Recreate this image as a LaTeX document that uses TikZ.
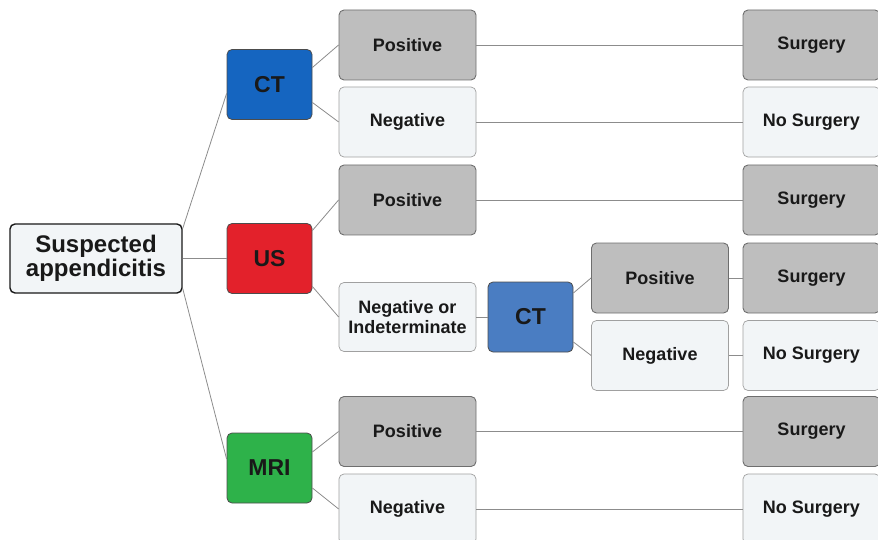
\documentclass[tikz,border=0pt]{standalone}
\usepackage{fontspec}
\setmainfont{Liberation Sans}
\usepackage{tikz}

\definecolor{ctblue}{HTML}{1565C0}
\definecolor{ctlight}{HTML}{4A7DC2}
\definecolor{usred}{HTML}{E3212B}
\definecolor{mrigreen}{HTML}{2EB24A}
\definecolor{posgrey}{HTML}{BEBEBE}
\definecolor{posedge}{HTML}{6E6E6E}
\definecolor{negfill}{HTML}{F2F5F7}
\definecolor{negedge}{HTML}{A0A0A0}
\definecolor{linkgrey}{HTML}{8C8C8C}

\begin{document}
\begin{tikzpicture}[x=1pt, y=-1pt,
    box/.style={rounded corners=5pt, minimum width=137pt, minimum height=70pt,
        inner sep=2pt, align=center, text=black!90,
        font=\bfseries\fontsize{18}{20}\selectfont},
    posbox/.style={box, draw=posedge, fill=posgrey, line width=0.9pt},
    negbox/.style={box, draw=negedge, fill=negfill, line width=0.7pt},
    testbox/.style={box, minimum width=85pt, minimum height=70pt,
        draw=black!70, line width=0.8pt, font=\bfseries\fontsize{23}{25}\selectfont},
    link/.style={draw=linkgrey, line width=0.8pt}]

    % Page frame
    \useasboundingbox (0,0) rectangle (878,540);
    \clip (0,0) rectangle (878,540);

    % Start
    \node[box, minimum width=172pt, minimum height=69pt, draw=black!90, fill=negfill,
        line width=1.4pt, font=\bfseries\fontsize{24}{24}\selectfont]
        (sa) at (96,258.5) {Suspected\\appendicitis};

    % Imaging tests
    \node[testbox, fill=ctblue] (ct) at (269.5,84.5) {CT};
    \node[testbox, fill=usred] (us) at (269.5,258.5) {US};
    \node[testbox, fill=mrigreen] (mri) at (269.5,468) {MRI};
    \node[testbox, fill=ctlight] (ctb) at (530.5,317) {CT};

    % Test results
    \node[posbox] (ctpos) at (407.5,45) {Positive};
    \node[negbox] (ctneg) at (407.5,122) {Negative};
    \node[posbox] (uspos) at (407.5,200) {Positive};
    \node[negbox, minimum height=69pt] (usneg) at (407.5,317) {Negative or\\Indeterminate};
    \node[posbox] (mripos) at (407.5,431.5) {Positive};
    \node[negbox] (mrineg) at (407.5,509) {Negative};
    \node[posbox] (ctbpos) at (660,278) {Positive};
    \node[negbox] (ctbneg) at (660,355.5) {Negative};

    % Outcomes
    \foreach \n/\y/\s/\t in {out1/45/posbox/Surgery, out2/122/negbox/No Surgery,
        out3/200/posbox/Surgery, out4/278/posbox/Surgery, out5/355.5/negbox/No Surgery,
        out6/431.5/posbox/Surgery, out7/509/negbox/No Surgery}
        \node[\s] (\n) at (811.5,\y) {\t};

    % Links from the start
    \draw[link] ([yshift=30]sa.east) -- ([yshift=-9]ct.west);
    \draw[link] (sa.east) -- (us.west);
    \draw[link] ([yshift=-30]sa.east) -- ([yshift=9]mri.west);

    % Links from tests to results
    \foreach \p/\c/\s in {ct/ctpos/17, ct/ctneg/-18, us/uspos/28, us/usneg/-28,
        mri/mripos/16, mri/mrineg/-20, ctb/ctbpos/24, ctb/ctbneg/-25}
        \draw[link] ([yshift=\s]\p.east) -- (\c.west);
    \draw[link] (usneg.east) -- (ctb.west);

    % Links from results to outcomes
    \foreach \a/\b in {ctpos/out1, ctneg/out2, uspos/out3, ctbpos/out4,
        ctbneg/out5, mripos/out6, mrineg/out7}
        \draw[link] (\a.east) -- (\b.west);
\end{tikzpicture}
\end{document}
